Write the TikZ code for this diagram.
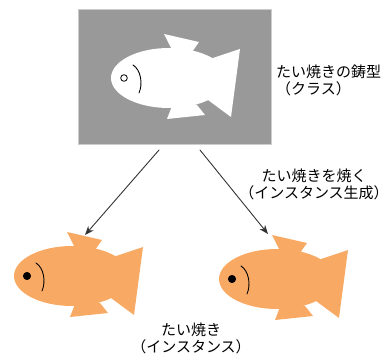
\documentclass[tikz,border=0pt]{standalone}
\usepackage{fontspec}
\setmainfont{Noto Sans CJK JP}
\usetikzlibrary{arrows.meta}
\definecolor{moldgray}{RGB}{153,153,153}
\definecolor{moldedge}{RGB}{204,204,204}
\definecolor{batter}{RGB}{248,170,100}
\definecolor{arrowgray}{RGB}{51,51,51}
\tikzset{
  pics/taiyaki/.style args={#1/#2/#3}{code={
    %body, tail and fins
    \fill[#1] (45,0) ellipse [x radius=58pt, y radius=30pt];
    \fill[#1] (79,-16) -- (89,-20) -- (116,-29) -- (107,39) -- (84,22) -- (79,17) -- cycle;%tail
    \fill[#1] (48,-28) -- (40,-44) -- (75,-36) -- (68,-26) -- (61,-23) -- cycle;%top fin
    \fill[#1] (48,28) -- (43,41) -- (81,37) -- (73,27) -- (61,24) -- cycle;%bottom fin
    %eye and mouth
    \filldraw[line width=0.8pt, fill=#2] (0,0) circle [radius=#3pt];
    \draw[line width=0.9pt] (9,-13) .. controls (17,-8) and (19,6) .. (15,15);
  }},
  label/.style={font=\fontsize{15pt}{17pt}\selectfont, inner sep=0pt}
}

\begin{document}
\begin{tikzpicture}[line cap=round,line join=round,>={Stealth[length=9pt,width=7pt]},x=1pt,y=-1pt]
\useasboundingbox (0,0) rectangle (391,358);
%mold
\node[fill=moldgray, draw=moldedge, line width=1pt, minimum width=193pt, minimum height=135pt, inner sep=0pt] (mold) at (174.5,77.5) {};
\pic at (124,78) {taiyaki={white/white/3.3}};
%instances
\pic at (27,276) {taiyaki={batter/black/3.6}};
\pic at (232,279) {taiyaki={batter/black/3.6}};
%labels
\node[label, anchor=west, align=left] (moldtxt) at (276,80) {たい焼きの鋳型\\（クラス）};
\node[label, align=center] (baketxt) at (314,184) {たい焼きを焼く\\（インスタンス生成）};
\node[label, align=center] (insttxt) at (191,338) {たい焼き\\（インスタンス）};
%%arrows
\coordinate (outL) at (159,150);
\coordinate (outR) at (200,150);
\coordinate (finL) at (85,235);
\coordinate (finR) at (268,234);
\draw [->, arrowgray, line width=0.9pt] (outL) -- (finL);
\draw [->, arrowgray, line width=0.9pt] (outR) -- (finR);
\end{tikzpicture}
\end{document}
